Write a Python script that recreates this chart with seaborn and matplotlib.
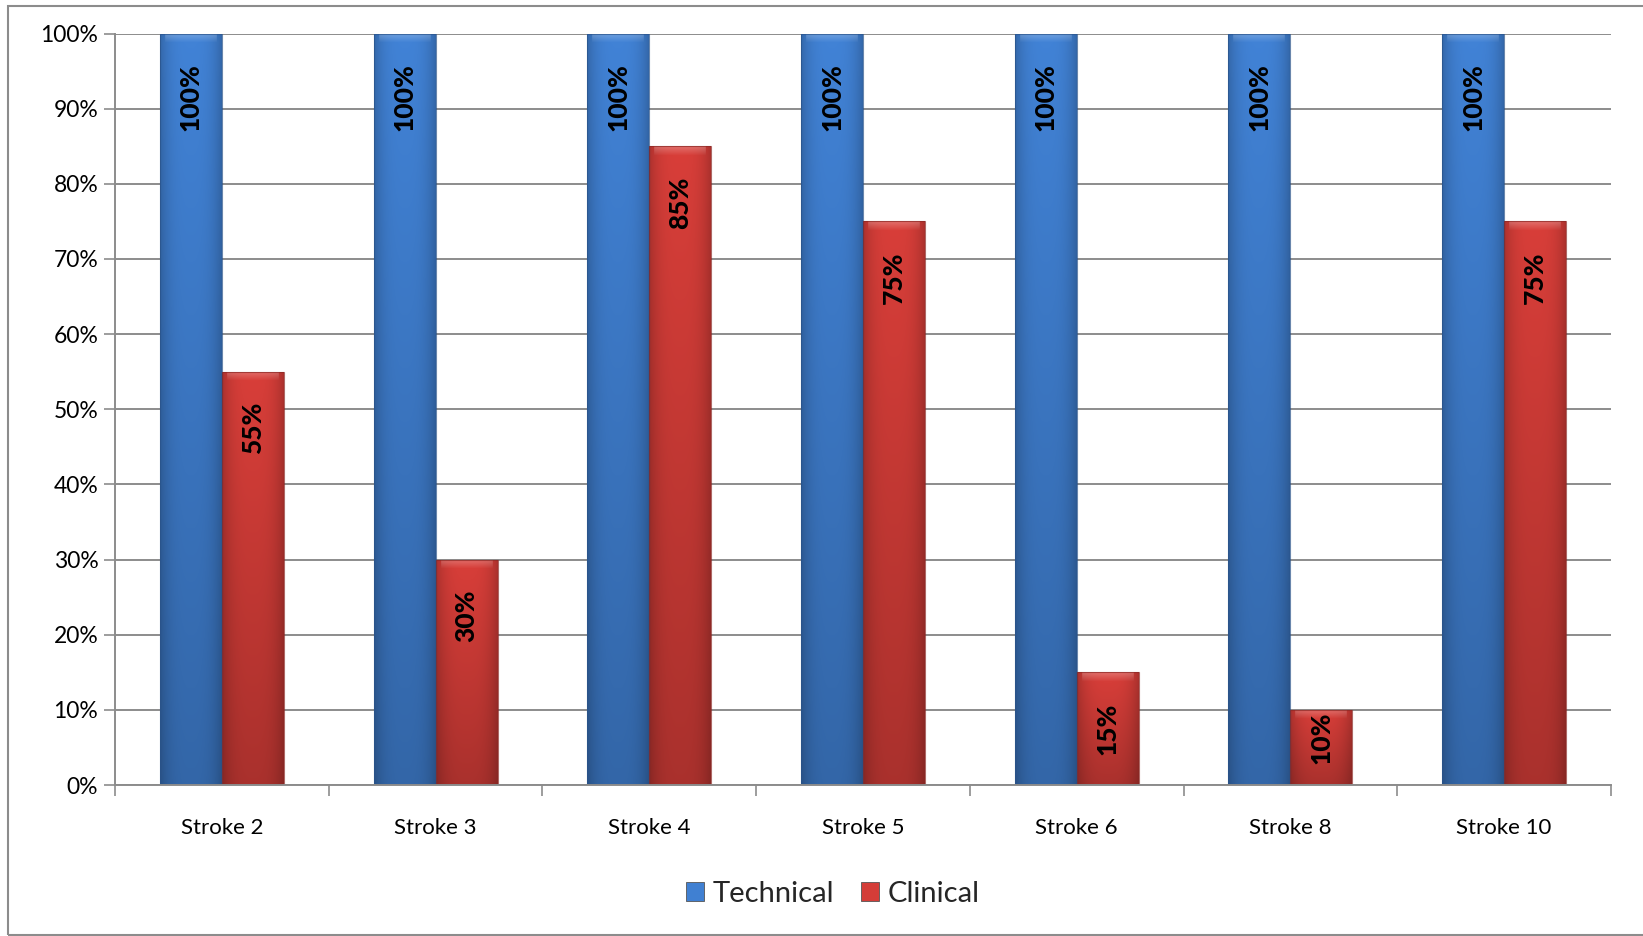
import numpy as np
import pandas as pd
import matplotlib
matplotlib.use("Agg")
import matplotlib.pyplot as plt
import matplotlib.patches as mpatches
from matplotlib.colors import to_rgb
import seaborn as sns

# Data
categories = ["Stroke 2", "Stroke 3", "Stroke 4", "Stroke 5", "Stroke 6", "Stroke 8", "Stroke 10"]
technical = [100, 100, 100, 100, 100, 100, 100]
clinical = [55, 30, 85, 75, 15, 10, 75]
series_names = ["Technical", "Clinical"]
y_ticks = [0, 10, 20, 30, 40, 50, 60, 70, 80, 90, 100]

df = pd.DataFrame({
    "category": categories * 2,
    "series": [series_names[0]] * len(categories) + [series_names[1]] * len(categories),
    "value": technical + clinical,
})

sns.set_theme(style="white")
plt.rcParams["font.family"] = ["Lato", "DejaVu Sans"]

colors = {"Technical": "#4080D2", "Clinical": "#D43D38"}

DPI = 100
fig = plt.figure(figsize=(16.43, 9.36), dpi=DPI)
ax = fig.add_axes([0.070, 0.1613, 0.9105, 0.8029])

sns.barplot(data=df, x="category", y="value", hue="series", order=categories,
            hue_order=series_names, palette=colors, width=0.58, gap=0,
            saturation=1, legend=False, ax=ax, edgecolor="none", linewidth=0)

ax.set_ylim(0, 100)
ax.set_xlim(-0.5, len(categories) - 0.5)
ax.set_xlabel("")
ax.set_ylabel("")

# gridlines
ax.set_yticks(y_ticks)
ax.set_yticklabels([f"{t}%" for t in y_ticks], fontsize=16.5, color="black")
ax.yaxis.grid(True, color="#8C8C8C", linewidth=1.4)
ax.set_axisbelow(True)
ax.tick_params(axis="y", length=8, width=1.2, color="#8C8C8C", pad=4, left=True)

# category labels at centres, tick marks at boundaries
ax.set_xticks(range(len(categories)))
ax.set_xticklabels(categories, fontsize=16, color="black")
ax.tick_params(axis="x", which="major", length=0, pad=24)
ax.set_xticks(np.arange(-0.5, len(categories)), minor=True)
ax.tick_params(axis="x", which="minor", length=8, width=1.2, color="#8C8C8C", bottom=True)

for side in ["top", "right"]:
    ax.spines[side].set_visible(False)
for side in ["left", "bottom"]:
    ax.spines[side].set_color("#8C8C8C")
    ax.spines[side].set_linewidth(1.4)

px_per_unit = ax.get_position().height * fig.get_figheight() * DPI / 100.0

# shaded fill for each bar: lighter centre, darker edges and base, bevelled top
def shade_bar(patch, base):
    x0, y0 = patch.get_x(), patch.get_y()
    w, h = patch.get_width(), patch.get_height()
    if h <= 0:
        return
    r, g, b = to_rgb(base)
    h_px = h * px_per_unit
    nx, ny = 60, max(int(h_px), 2)
    u = np.linspace(-1, 1, nx)
    v = np.linspace(0, 1, ny)[:, None]
    horiz = 1.0 - 0.20 * np.abs(u) ** 3
    vert = 0.80 + 0.22 * v
    shade = horiz[None, :] * vert
    img = np.zeros((ny, nx, 3))
    for k, c in enumerate((r, g, b)):
        img[..., k] = np.clip(c * shade, 0, 1)
    # bevel band along the top edge
    bevel = np.clip(np.arange(ny)[::-1] / 9.0, 0, 1)[:, None]
    highlight = (1 - bevel) * 0.25
    img = img + (1 - img) * highlight[..., None] * (np.abs(u)[None, :, None] < 0.85)
    im = ax.imshow(np.clip(img, 0, 1), extent=(x0, x0 + w, y0, y0 + h), origin="lower",
                   aspect="auto", zorder=patch.get_zorder() + 0.1, interpolation="bilinear")
    im.set_clip_path(patch)
    edge = mpatches.Rectangle((x0, y0), w, h, fill=False,
                              edgecolor=tuple(c * 0.65 for c in (r, g, b)),
                              linewidth=0.8, zorder=patch.get_zorder() + 0.2, alpha=0.7)
    ax.add_patch(edge)

bars = list(ax.patches)
n = len(categories)
for i, patch in enumerate(bars[: 2 * n]):
    shade_bar(patch, colors[series_names[i // n]])

ax.set_xlim(-0.5, len(categories) - 0.5)
ax.set_ylim(0, 100)

# value labels inside the bar tops, kept within short bars
fig.canvas.draw()
renderer = fig.canvas.get_renderer()
label_kw = dict(rotation=90, fontsize=19, fontweight="black")
for i, patch in enumerate(bars[: 2 * n]):
    val = patch.get_height()
    t = ax.text(0, 0, f"{val:.0f}%", **label_kw)
    text_len = t.get_window_extent(renderer).height
    t.remove()
    h_px = val * px_per_unit
    off_px = min(30.0, max(2.0, h_px - text_len - 23))
    ax.annotate(f"{val:.0f}%", xy=(patch.get_x() + patch.get_width() / 2, val),
                xytext=(0, -off_px * 72 / DPI), textcoords="offset points",
                ha="center", va="top", color="black", zorder=10, **label_kw)

# legend
handles = [mpatches.Patch(facecolor=colors[s], edgecolor="#555555", linewidth=0.6, label=s)
           for s in series_names]
fig.legend(handles=handles, loc="center", bbox_to_anchor=(833 / 1643, 1 - 894 / 936),
           ncol=2, frameon=False, fontsize=21, handlelength=0.62, handleheight=0.62,
           handletextpad=0.3, columnspacing=0.9)

# chart-area frame
frame = mpatches.Rectangle((8 / 1643, 1 / 936), 1.2, 1 - 7 / 936, transform=fig.transFigure,
                           fill=False, edgecolor="#8C8C8C", linewidth=1.5)
fig.patches.append(frame)

fig.savefig("out.png", dpi=DPI)
